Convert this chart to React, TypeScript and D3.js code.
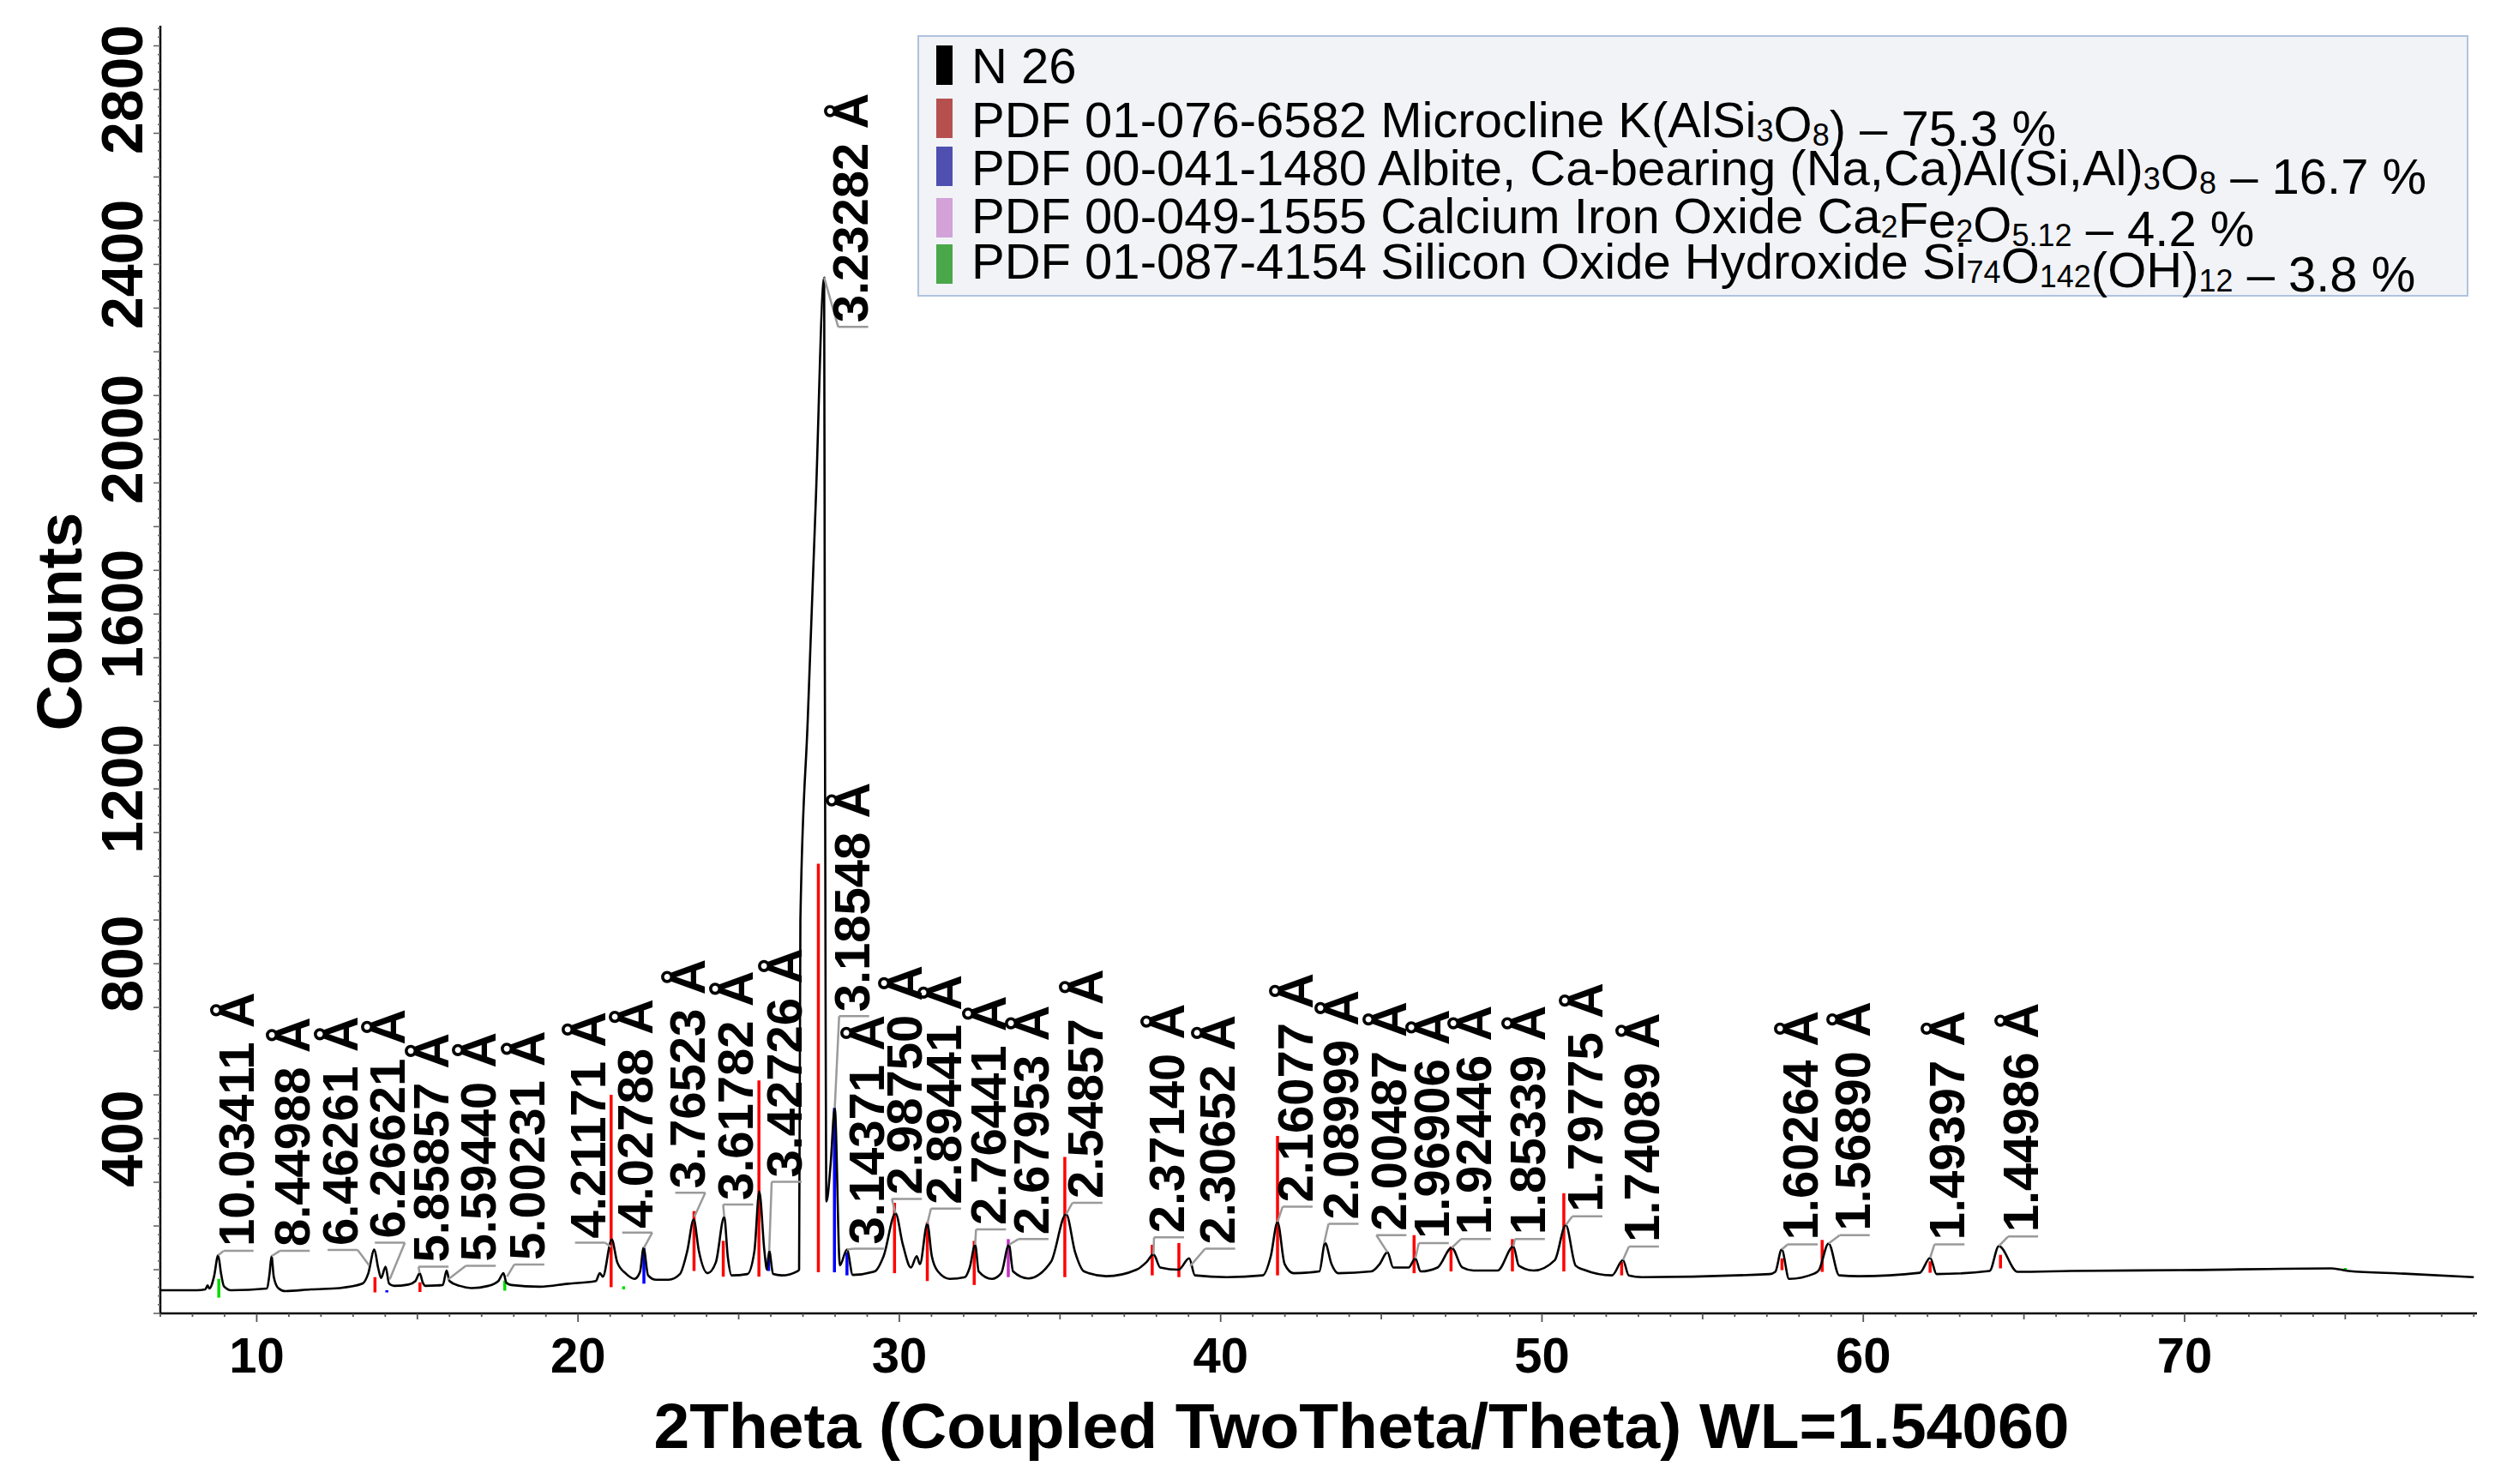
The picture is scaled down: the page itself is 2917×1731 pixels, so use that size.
import React from 'react';
import * as d3 from 'd3';

const W = 2917;
const H = 1731;
const FONT = "'Liberation Sans', Arial, Helvetica, sans-serif";

const scanTheta = [
  7.0, 8.13, 8.4, 8.47, 8.53, 8.67, 8.8, 8.89, 8.98, 9.2,
  10.31, 10.4, 10.46, 10.53, 10.67, 10.89, 11.69, 12.58, 13.29, 13.47,
  13.66, 13.78, 13.87, 14.01, 14.12, 14.27, 14.72, 14.94, 15.07, 15.17,
  15.25, 15.79, 15.91, 16.0, 16.32, 16.68, 17.21, 17.52, 17.68, 17.77,
  17.92, 18.81, 19.7, 20.55, 20.68, 20.77, 21.05, 21.22, 21.49, 21.76,
  21.93, 22.04, 22.18, 22.42, 22.82, 23.17, 23.4, 23.6, 23.76, 24.03,
  24.29, 24.55, 24.66, 24.78, 25.27, 25.49, 25.64, 25.8, 25.88, 25.95,
  26.07, 26.34, 26.84, 26.88, 26.92, 27.15, 27.4, 27.66, 27.68, 27.705,
  27.73, 27.86, 27.99, 28.15, 28.37, 28.55, 29.23, 29.51, 29.88, 30.11,
  30.36, 30.54, 30.64, 30.87, 31.01, 31.2, 31.57, 32.04, 32.19, 32.36,
  32.47, 32.88, 33.17, 33.41, 33.54, 34.01, 34.72, 35.19, 35.47, 35.75,
  36.44, 37.38, 37.7, 37.91, 38.12, 38.69, 39.02, 39.2, 40.19, 41.31,
  41.56, 41.77, 41.99, 42.27, 43.07, 43.25, 43.45, 43.66, 44.69, 44.95,
  45.19, 45.37, 45.85, 46.06, 46.22, 46.75, 47.19, 47.52, 47.87, 48.62,
  49.11, 49.28, 49.74, 50.4, 50.74, 51.05, 51.3, 52.18, 52.52, 52.7,
  53.11, 57.09, 57.26, 57.46, 57.69, 58.47, 58.62, 58.92, 59.25, 59.86,
  61.76, 62.08, 62.28, 63.93, 64.22, 64.8, 66.44, 69.9, 74.58, 75.1,
  76.83, 79.0,
];
const scanCounts = [
  53, 53, 55, 64, 57, 84, 133, 91, 62, 53,
  57, 91, 131, 84, 58, 51, 55, 58, 68, 91,
  146, 104, 81, 107, 68, 63, 66, 74, 92, 70,
  63, 65, 98, 74, 63, 58, 63, 74, 92, 70,
  65, 61, 68, 74, 92, 84, 169, 117, 91, 79,
  95, 150, 87, 77, 77, 90, 143, 215, 143, 92,
  117, 221, 130, 87, 90, 143, 279, 143, 100, 143,
  90, 87, 97, 100, 900, 1360, 1860, 2370, 1500, 700,
  256, 340, 470, 110, 146, 88, 96, 131, 229, 157,
  105, 131, 113, 205, 131, 96, 79, 83, 105, 157,
  96, 79, 92, 157, 96, 80, 118, 227, 140, 96,
  85, 100, 118, 135, 105, 100, 126, 87, 83, 87,
  131, 209, 113, 92, 96, 161, 113, 92, 96, 113,
  140, 105, 105, 126, 96, 105, 150, 105, 98, 98,
  153, 109, 98, 122, 202, 109, 100, 87, 122, 87,
  83, 90, 95, 146, 79, 91, 99, 160, 87, 85,
  93, 127, 90, 97, 154, 95, 97, 99, 103, 97,
  91, 83,
];

// ---- axes ----
const yTicks = [400, 800, 1200, 1600, 2000, 2400, 2800];
const xTicks = [10, 20, 30, 40, 50, 60, 70];
const xDomain = [7, 79.1];
const yDomain = [0, 2950];

// ---- peak labels (d-spacings) ----
const labelText = [
  '10.03411 Å', '8.44988 Å', '6.46261 Å', '6.26621 Å', '5.85857 Å', '5.59440 Å', '5.00231 Å',
  '4.21171 Å', '4.02788 Å', '3.76523 Å', '3.61782 Å', '3.42726 Å', '3.23282 Å', '3.18548 Å',
  '3.14371 Å', '2.98750 Å', '2.89441 Å', '2.76441 Å', '2.67953 Å', '2.54857 Å', '2.37140 Å',
  '2.30652 Å', '2.16077 Å', '2.08999 Å', '2.00487 Å', '1.96906 Å', '1.92446 Å', '1.85339 Å',
  '1.79775 Å', '1.74089 Å', '1.60264 Å', '1.56890 Å', '1.49397 Å', '1.44986 Å',
];
const labelTheta = [
  9.34, 11.09, 12.58, 14.05, 15.41, 16.88, 18.39, 20.28, 21.75, 23.4, 24.89, 26.4, 28.47, 28.5,
  28.96, 30.14, 31.36, 32.76, 34.08, 35.76, 38.3, 39.89, 42.3, 43.73, 45.22, 46.54, 47.85, 49.53,
  51.32, 53.08, 58.02, 59.64, 62.59, 64.88,
];
const labelBase = [
  143, 143, 145, 162, 107, 109, 112, 162, 185, 276, 249, 301, 2257, 680,
  148, 262, 240, 192, 170, 253, 174, 148, 244, 205, 179, 161, 170, 170,
  222, 153, 158, 179, 158, 176,
];
const peakTheta = [
  8.8, 10.46, 13.5, 14.14, 15.07, 15.96, 17.79, 21.03, 22.05, 23.62, 24.55, 25.95, 27.66, 27.99,
  28.37, 29.88, 30.87, 32.36, 33.41, 35.19, 37.91, 39.05, 41.77, 43.22, 45.19, 46.06, 47.19, 49.11,
  50.74, 52.52, 57.46, 58.92, 62.08, 64.22,
];
const leaderEnd = [
  133, 131, 110, 78, 92, 78, 84, 152, 150, 221, 221, 143, 2370, 470,
  146, 229, 205, 157, 157, 227, 135, 108, 209, 161, 140, 126, 150, 153,
  202, 122, 146, 160, 127, 154,
];

// ---- reference patterns (stick positions / heights) ----
const microclineTheta = [13.68, 15.08, 21.03, 23.61, 24.52, 25.63, 27.48, 29.85, 30.87, 32.33, 35.15, 37.87, 38.7, 41.77, 46.02, 47.17, 49.08, 50.68, 52.48, 57.47, 58.72, 62.08, 64.27];
const microclineBottom = [48, 49, 60, 97, 84, 84, 94, 92, 74, 65, 83, 87, 83, 87, 92, 96, 96, 96, 87, 99, 95, 93, 103];
const microclineTop = [83, 71, 500, 234, 166, 533, 1029, 253, 209, 166, 358, 157, 161, 406, 179, 153, 170, 275, 118, 126, 168, 119, 134];
const albiteTheta = [14.05, 22.05, 25.93, 27.98, 28.37];
const albiteBottom = [48, 68, 97, 94, 87];
const albiteTop = [53, 150, 127, 470, 140];
const caFeTheta = [33.39];
const caFeBottom = [83];
const caFeTop = [170];
const siliconTheta = [8.82, 17.72, 21.42, 75.0];
const siliconBottom = [36, 52, 55, 98];
const siliconTop = [79, 75, 62, 104];

// ---- legend ----
const legendColors = ['#000000', '#b5504f', '#4f4fb0', '#d2a2d8', '#4aa84a'];
const stickColors = ['#ff0000', '#0000ff', '#c030c0', '#00dd00'];

export default function App() {
  const x = d3.scaleLinear().domain(xDomain).range([187, 2889]);
  const y = d3.scaleLinear().domain(yDomain).range([1532, 28]);

  const pts: [number, number][] = scanTheta.map((t, i) => [t, scanCounts[i]]);
  const line = d3
    .line<[number, number]>()
    .x((d) => x(d[0]))
    .y((d) => y(d[1]))
    .curve(d3.curveMonotoneX);

  const stickSets = [
    { t: microclineTheta, b: microclineBottom, h: microclineTop, c: stickColors[0] },
    { t: albiteTheta, b: albiteBottom, h: albiteTop, c: stickColors[1] },
    { t: caFeTheta, b: caFeBottom, h: caFeTop, c: stickColors[2] },
    { t: siliconTheta, b: siliconBottom, h: siliconTop, c: stickColors[3] },
  ];

  const xMinor = d3.range(7, 80, 1);
  const yMinor = d3.range(0, 2941, 20);

  const sub = (s: string) => (
    <>
      <tspan fontSize={36} dy={5}>{s}</tspan>
      <tspan dy={-5}></tspan>
    </>
  );

  const swTop = [53, 115, 171, 231, 285];
  const rowBase = [97, 160, 216, 272, 325];

  return (
    <svg
      width={W}
      height={H}
      viewBox={`0 0 ${W} ${H}`}
      style={{ position: 'absolute', left: 0, top: 0, background: '#fff' }}
      fontFamily={FONT}
    >
      <rect x={0} y={0} width={W} height={H} fill="#fff" />

      {/* sticks */}
      {stickSets.map((s, si) =>
        s.t.map((t, i) => (
          <line
            key={`s${si}-${i}`}
            x1={x(t)}
            x2={x(t)}
            y1={y(s.b[i])}
            y2={y(s.h[i])}
            stroke={s.c}
            strokeWidth={3.5}
          />
        ))
      )}

      {/* scan */}
      <path d={line(pts) || ''} fill="none" stroke="#000" strokeWidth={2.6} strokeLinejoin="round" />

      {/* peak labels */}
      {labelText.map((txt, i) => {
        const lx = x(labelTheta[i]);
        const by = y(labelBase[i]);
        const left = lx - 14;
        const right = lx + 21;
        const px = x(peakTheta[i]);
        const py = y(leaderEnd[i]);
        const sx = peakTheta[i] < labelTheta[i] ? left : right;
        return (
          <g key={`l${i}`}>
            <line x1={left} x2={right} y1={by} y2={by} stroke="#9a9a9a" strokeWidth={2.5} />
            <line x1={sx} x2={px} y1={by} y2={py} stroke="#9a9a9a" strokeWidth={2.5} />
            <text
              transform={`translate(${lx},${by - 5}) rotate(-90)`}
              dy="0.36em"
              fontSize={58}
              fontWeight="bold"
              fill="#000"
            >
              {txt}
            </text>
          </g>
        );
      })}

      {/* axes */}
      <line x1={187} x2={187} y1={30} y2={1533} stroke="#000" strokeWidth={2.5} />
      <line x1={186} x2={2889} y1={1532} y2={1532} stroke="#000" strokeWidth={2.5} />
      {yMinor.map((v) => {
        const len = v % 100 === 0 ? 8 : 3;
        return <line key={`ym${v}`} x1={187 - len} x2={187} y1={y(v)} y2={y(v)} stroke="#666" strokeWidth={1.6} />;
      })}
      {xMinor.map((v) => {
        const len = v % 10 === 0 ? 10 : v % 5 === 0 ? 7 : 4;
        return <line key={`xm${v}`} x1={x(v)} x2={x(v)} y1={1532} y2={1532 + len} stroke="#555" strokeWidth={1.8} />;
      })}
      {yTicks.map((v) => (
        <text
          key={`yt${v}`}
          transform={`translate(142,${y(v)}) rotate(-90)`}
          dy="0.36em"
          textAnchor="middle"
          fontSize={68}
          fontWeight="bold"
        >
          {v}
        </text>
      ))}
      {xTicks.map((v) => (
        <text key={`xt${v}`} x={x(v)} y={1601} textAnchor="middle" fontSize={58} fontWeight="bold">
          {v}
        </text>
      ))}
      <text
        transform="translate(68,725) rotate(-90)"
        dy="0.36em"
        textAnchor="middle"
        fontSize={74}
        fontWeight="bold"
      >
        Counts
      </text>
      <text x={1588} y={1689} textAnchor="middle" fontSize={75} fontWeight="bold">
        2Theta (Coupled TwoTheta/Theta) WL=1.54060
      </text>

      {/* legend */}
      <rect x={1071} y={42} width={1807} height={303} fill="#f1f3f7" stroke="#afc3de" strokeWidth={2} />
      {swTop.map((t, i) => (
        <rect key={`sw${i}`} x={1092} y={t} width={19} height={46} fill={legendColors[i]} />
      ))}
      <g fontSize={58} fill="#000">
        <text x={1133} y={rowBase[0]}>N 26</text>
        <text x={1133} y={rowBase[1]}>
          PDF 01-076-6582 Microcline K(AlSi{sub('3')}O{sub('8')}) – 75.3 %
        </text>
        <text x={1133} y={rowBase[2]}>
          PDF 00-041-1480 Albite, Ca-bearing (Na,Ca)Al(Si,Al){sub('3')}O{sub('8')} – 16.7 %
        </text>
        <text x={1133} y={rowBase[3]}>
          PDF 00-049-1555 Calcium Iron Oxide Ca{sub('2')}Fe{sub('2')}O{sub('5.12')} – 4.2 %
        </text>
        <text x={1133} y={rowBase[4]}>
          PDF 01-087-4154 Silicon Oxide Hydroxide Si{sub('74')}O{sub('142')}(OH){sub('12')} – 3.8 %
        </text>
      </g>
    </svg>
  );
}
